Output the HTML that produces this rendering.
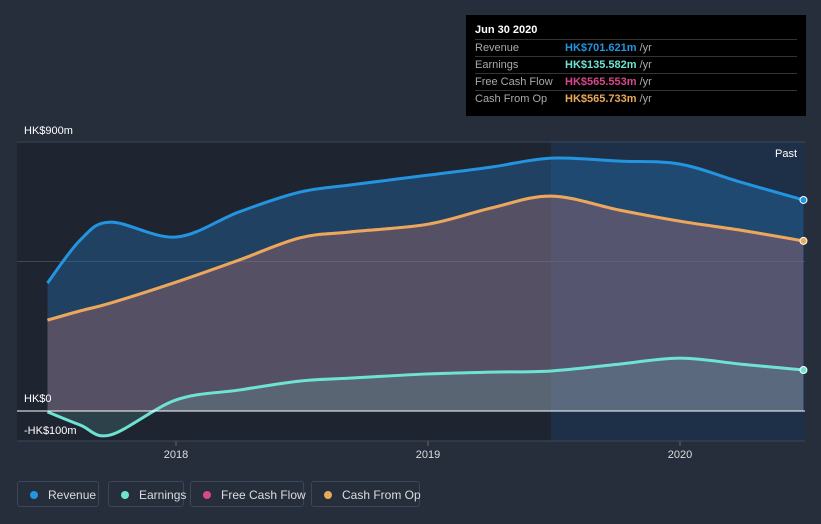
<!DOCTYPE html>
<html><head><meta charset="utf-8"><style>
body{margin:0;background:#262d3b;font-family:"Liberation Sans",sans-serif;}
#wrap{position:relative;width:821px;height:524px;overflow:hidden;background:#262d3b}
svg{position:absolute;left:0;top:0}
.tt{position:absolute;left:466px;top:15px;width:340px;height:101px;background:#000;color:#fff;font-size:11px}
.tt .h{position:absolute;left:9px;top:9px;font-weight:bold;font-size:11px}
.row{position:absolute;left:9px;width:322px;height:17px;border-top:1px solid #333;line-height:17px}
.row span{position:absolute;left:90px;font-weight:bold}
.lg{position:absolute;top:481px;height:26px;border:1px solid #3d4656;border-radius:3px;color:#ddd;font-size:12px;line-height:26px;box-sizing:border-box;padding-left:30px;white-space:nowrap}
.lg i{position:absolute;left:12px;top:9px;width:8px;height:8px;border-radius:50%}
</style></head><body>
<div id="wrap">
<svg id="s" width="821" height="524"></svg>
<div class="tt">
<div class="h">Jun 30 2020</div>
<div class="row" style="top:24px;color:#aaa">Revenue<span style="color:#2394df">HK$701.621m <b style="color:#aaa;font-weight:normal">/yr</b></span></div>
<div class="row" style="top:41px;color:#aaa">Earnings<span style="color:#6fe3d3">HK$135.582m <b style="color:#aaa;font-weight:normal">/yr</b></span></div>
<div class="row" style="top:58px;color:#aaa">Free Cash Flow<span style="color:#d6498a">HK$565.553m <b style="color:#aaa;font-weight:normal">/yr</b></span></div>
<div class="row" style="top:75px;color:#aaa">Cash From Op<span style="color:#e8a95a">HK$565.733m <b style="color:#aaa;font-weight:normal">/yr</b></span></div>
</div>
<div class="lg" style="left:17px;width:82px"><i style="background:#2394df"></i>Revenue</div>
<div class="lg" style="left:108px;width:76px"><i style="background:#6fe3d3"></i>Earnings</div>
<div class="lg" style="left:190px;width:114px"><i style="background:#d6498a"></i>Free Cash Flow</div>
<div class="lg" style="left:311px;width:109px"><i style="background:#e8a95a"></i>Cash From Op</div>
</div>
<script>
const dates=[2017.49,2017.62,2017.74,2018.0,2018.25,2018.49,2018.69,2019.0,2019.25,2019.49,2019.76,2020.0,2020.24,2020.49];
const revenue=[428,572,632,582,666,732,756,789,816,846,836,826,766,706];
const earnings=[-3,-47,-80,37,70,100,110,124,130,134,157,177,157,137];
const cfo=[304,335,361,431,505,579,599,625,679,719,672,635,605,569];
const fcf=cfo.map(v=>v-0.2);
const yTicks=[900,500,0,-100];
const xTicks=[2018,2019,2020];
const X=d=>176+(d-2018)*252, Y=v=>411-v*0.2989;
const s=document.getElementById('s'),NS='http://www.w3.org/2000/svg';
function el(t,a,name){const e=document.createElementNS(NS,t);for(const k in a)e.setAttribute(k,a[k]);


s.appendChild(e);return e;}
function path(vals){const p=vals.map((v,i)=>[X(dates[i]),Y(v)]);let d='M'+p[0];
for(let i=0;i<p.length-1;i++){const a=p[i-1]||p[i],b=p[i],c=p[i+1],e=p[i+2]||c;
d+=`C${b[0]+(c[0]-a[0])/6},${b[1]+(c[1]-a[1])/6} ${c[0]-(e[0]-b[0])/6},${c[1]-(e[1]-b[1])/6} ${c[0]},${c[1]}`;}return d;}
el('rect',{x:17,y:141,width:534,height:300,fill:'#1f2431'},'past-bg');
el('rect',{x:551,y:141,width:254,height:300,fill:'#1e3048'},'highlight-bg');
el('line',{x1:17,x2:805,y1:Y(900),y2:Y(900),stroke:'#3f4757'},'grid-900');
el('line',{x1:17,x2:805,y1:Y(500),y2:Y(500),stroke:'#3f4757'},'grid-500');
el('line',{x1:17,x2:805,y1:441,y2:441,stroke:'#3f4757'},'grid-bottom');
const x0=X(dates[0]),x1=X(dates[dates.length-1]),z=Y(0);
function area(vals,fill,name){el('path',{d:path(vals)+`L${x1},${z}L${x0},${z}Z`,fill:fill},name);}
area(revenue,'rgba(35,120,190,0.35)','revenue-area');
area(cfo,'rgba(190,110,110,0.35)','cfo-area');
area(earnings,'rgba(110,200,190,0.18)','earnings-area');
el('path',{d:path(revenue),fill:'none',stroke:'#2394df','stroke-width':3},'revenue-line');
el('path',{d:path(fcf),fill:'none',stroke:'#d6498a','stroke-width':3},'fcf-line');
el('path',{d:path(cfo),fill:'none',stroke:'#e8a95a','stroke-width':3},'cfo-line');
el('path',{d:path(earnings),fill:'none',stroke:'#6fe3d3','stroke-width':3},'earnings-line');
el('line',{x1:17,x2:805,y1:z,y2:z,stroke:'#fff'},'zero-line');
[[revenue,'#2394df'],[cfo,'#e8a95a'],[earnings,'#6fe3d3']].forEach(([v,c])=>el('circle',{cx:x1,cy:Y(v[v.length-1]),r:3.5,fill:c,stroke:'#fff','stroke-width':1},'end-dot'));
const lab=['HK$900m',null,'HK$0','-HK$100m'];
yTicks.forEach((t,i)=>{if(!lab[i])return;const e=el('text',{x:24,y:Y(t)+(t===900?-8:(t===0?-9:-7)),fill:'#fff','font-size':11},'y-tick-label');e.textContent=lab[i];});
xTicks.forEach(t=>{el('line',{x1:X(t),x2:X(t),y1:441,y2:446,stroke:'#666'},'x-tick');const e=el('text',{x:X(t),y:458,fill:'#ddd','font-size':11,'text-anchor':'middle'},'x-tick-label');e.textContent=t;});
const p=el('text',{x:797,y:157,fill:'#fff','font-size':11,'text-anchor':'end'},'past-label');p.textContent='Past';
</script>
</body></html>
